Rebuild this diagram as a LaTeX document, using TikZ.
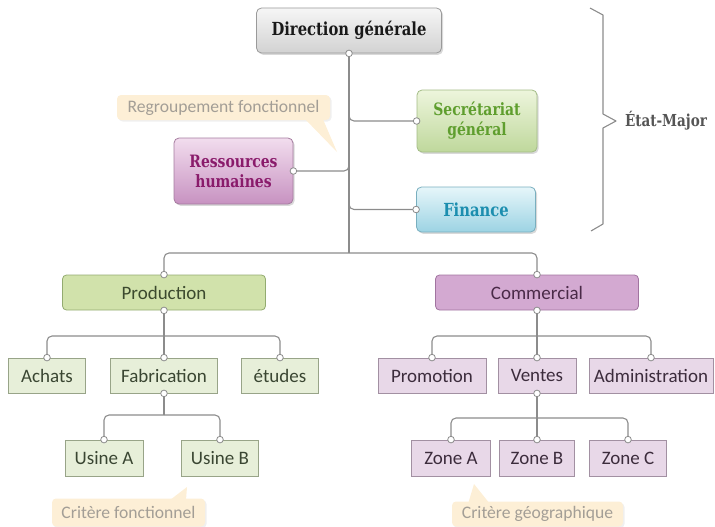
\documentclass[tikz,border=0pt]{standalone}
\usepackage{fontspec}
\setmainfont{Carlito}
\newfontfamily\slabfont[FakeStretch=0.82]{DejaVu Serif}
\usetikzlibrary{shadows}
\definecolor{linegray}{HTML}{8C8C8C}
\definecolor{dgtop}{HTML}{F6F6F6}
\definecolor{dgbot}{HTML}{D2D2D2}
\definecolor{dgline}{HTML}{9A9A9A}
\definecolor{sgtop}{HTML}{EDF5DC}
\definecolor{sgbot}{HTML}{BFD89C}
\definecolor{sgline}{HTML}{A3BC86}
\definecolor{sgtext}{HTML}{5F9E2E}
\definecolor{fintop}{HTML}{E6F6FA}
\definecolor{finbot}{HTML}{9CD3E3}
\definecolor{finline}{HTML}{79AFBF}
\definecolor{fintext}{HTML}{1C8EAF}
\definecolor{rhtop}{HTML}{F2DDEE}
\definecolor{rhbot}{HTML}{C792C1}
\definecolor{rhline}{HTML}{A57C9F}
\definecolor{rhtext}{HTML}{8A1B6B}
\definecolor{prodfill}{HTML}{D1E2AB}
\definecolor{prodline}{HTML}{93AB70}
\definecolor{prodtext}{HTML}{3C4A2E}
\definecolor{commfill}{HTML}{D3A9D1}
\definecolor{commline}{HTML}{A174A0}
\definecolor{commtext}{HTML}{4A2A48}
\definecolor{gfill}{HTML}{E7EFD9}
\definecolor{gline}{HTML}{98A488}
\definecolor{gtext}{HTML}{3A4632}
\definecolor{pfill}{HTML}{E8D8E8}
\definecolor{pline}{HTML}{A290A2}
\definecolor{ptext}{HTML}{3C2C3C}
\definecolor{calfill}{HTML}{FDEFD6}
\definecolor{caltext}{HTML}{A39E96}
\definecolor{emtext}{HTML}{555555}
\tikzset{
  conn/.style={draw=linegray, line width=1.1pt, rounded corners=5pt},
  dotc/.style={fill=white, draw=linegray, line width=0.8pt},
  topbox/.style={rectangle, rounded corners=5pt, line width=0.8pt, align=center, inner sep=0pt,
    drop shadow={opacity=0.3, shadow xshift=1.6pt, shadow yshift=-1.8pt},
    font=\slabfont\bfseries\fontsize{17}{20}\selectfont},
  graybox/.style={draw=dgline, top color=dgtop, bottom color=dgbot, text=black!90},
  greenbox/.style={draw=sgline, top color=sgtop, bottom color=sgbot, text=sgtext},
  bluebox/.style={draw=finline, top color=fintop, bottom color=finbot, text=fintext},
  purplebox/.style={draw=rhline, top color=rhtop, bottom color=rhbot, text=rhtext},
  midbox/.style={rectangle, rounded corners=4pt, line width=0.8pt, inner sep=0pt,
    minimum width=203pt, minimum height=35pt, font=\fontsize{19}{22}\selectfont},
  lowbox/.style={rectangle, line width=0.8pt, inner sep=0pt, minimum height=35pt,
    font=\fontsize{19}{22}\selectfont},
  lowg/.style={lowbox, draw=gline, fill=gfill, text=gtext},
  lowp/.style={lowbox, draw=pline, fill=pfill, text=ptext},
  callout/.style={rectangle, rounded corners=4pt, fill=calfill, text=caltext, inner sep=0pt,
    drop shadow={opacity=0.12, shadow xshift=1.5pt, shadow yshift=-1.5pt},
    font=\fontsize{17.6}{20}\selectfont},
}
\begin{document}
\begin{tikzpicture}[x=1pt,y=-1pt]
\useasboundingbox (0,0) rectangle (715,527);

% top level
\node[topbox, graybox, minimum width=185pt, minimum height=45pt, font=\slabfont\bfseries\fontsize{18}{20}\selectfont] (dg) at (349,30.5) {Direction générale};
\node[topbox, greenbox, minimum width=120pt, minimum height=62pt] (sg) at (477,121) {Secrétariat\\général};
\node[topbox, bluebox, minimum width=119pt, minimum height=45pt, font=\slabfont\bfseries\fontsize{18}{20}\selectfont] (fin) at (476,209.5) {Finance};
\node[topbox, purplebox, minimum width=119pt, minimum height=66pt] (rh) at (233.5,171) {Ressources\\humaines};

% second level
\node[midbox, draw=prodline, fill=prodfill, text=prodtext] (prod) at (164,292.5) {Production};
\node[midbox, draw=commline, fill=commfill, text=commtext] (comm) at (537,292.5) {Commercial};

% third level
\node[lowg, minimum width=77pt] (achats) at (47,375.5) {Achats};
\node[lowg, minimum width=107pt] (fab) at (164,375.5) {Fabrication};
\node[lowg, minimum width=77pt] (etudes) at (280,375.5) {études};
\node[lowp, minimum width=108pt] (promo) at (432,375.5) {Promotion};
\node[lowp, minimum width=78pt] (ventes) at (537,375.5) {Ventes};
\node[lowp, minimum width=124pt] (admin) at (651,375.5) {Administration};

% fourth level
\node[lowg, minimum width=78pt, minimum height=36pt] (usA) at (104,458) {Usine A};
\node[lowg, minimum width=77pt, minimum height=36pt] (usB) at (220,458) {Usine B};
\node[lowp, minimum width=79pt, minimum height=36pt] (zA) at (451,458) {Zone A};
\node[lowp, minimum width=75pt, minimum height=36pt] (zB) at (537,458) {Zone B};
\node[lowp, minimum width=77pt, minimum height=36pt] (zC) at (628,458) {Zone C};

% junction coordinates
\coordinate (jtop) at (349,253);
\coordinate (jprod) at (164,336);
\coordinate (jcomm) at (537,336);
\coordinate (jfab) at (164,415);
\coordinate (jven) at (537,418);

% connectors
\draw[conn] (dg.south) -- (jtop);
\draw[conn] (dg.south) |- (sg.west);
\draw[conn] (dg.south) |- (fin.west);
\draw[conn] (dg.south) |- (rh.east);
\draw[conn] (jtop) -| (prod.north);
\draw[conn] (jtop) -| (comm.north);
\draw[conn] (prod.south) -- (jprod);
\draw[conn] (jprod) -| (achats.north);
\draw[conn] (jprod) -| (etudes.north);
\draw[conn] (jprod) -- (fab.north);
\draw[conn] (fab.south) -- (jfab);
\draw[conn] (jfab) -| (usA.north);
\draw[conn] (jfab) -| (usB.north);
\draw[conn] (comm.south) -- (jcomm);
\draw[conn] (jcomm) -| (promo.north);
\draw[conn] (jcomm) -| (admin.north);
\draw[conn] (jcomm) -- (ventes.north);
\draw[conn] (ventes.south) -- (jven);
\draw[conn] (jven) -| (zA.north);
\draw[conn] (jven) -| (zC.north);
\draw[conn] (jven) -- (zB.north);

% end dots
\foreach \p in {dg.south, sg.west, fin.west, rh.east, prod.north, prod.south, comm.north, comm.south,
  achats.north, fab.north, fab.south, etudes.north, usA.north, usB.north,
  promo.north, ventes.north, ventes.south, admin.north, zA.north, zB.north, zC.north}
  \draw[dotc] (\p) circle[radius=3.3pt];

% callouts
\node[callout, minimum width=213pt, minimum height=25pt] (cregr) at (223.5,107.5) {Regroupement fonctionnel};
\fill[calfill] (303,117) -- (322,117) -- (337,152) -- cycle;
\node[callout, minimum width=153pt, minimum height=28pt] (cfonc) at (128.5,512.5) {Critère fonctionnel};
\fill[calfill] (170,500) -- (186,500) -- (187,487) -- cycle;
\node[callout, minimum width=171pt, minimum height=25pt] (cgeo) at (537.5,514) {Critère géographique};
\fill[calfill] (468,504) -- (490,504) -- (474,484) -- cycle;

% brace
\draw[linegray, line width=1.1pt, line join=round] (590,8) -- (603,15) -- (603,114) -- (616,121) -- (603,128) -- (603,224) -- (591,231);
\node[text=emtext, font=\slabfont\bfseries\fontsize{16.5}{20}\selectfont, inner sep=0pt] (em) at (666,121) {État-Major};
\end{tikzpicture}
\end{document}
